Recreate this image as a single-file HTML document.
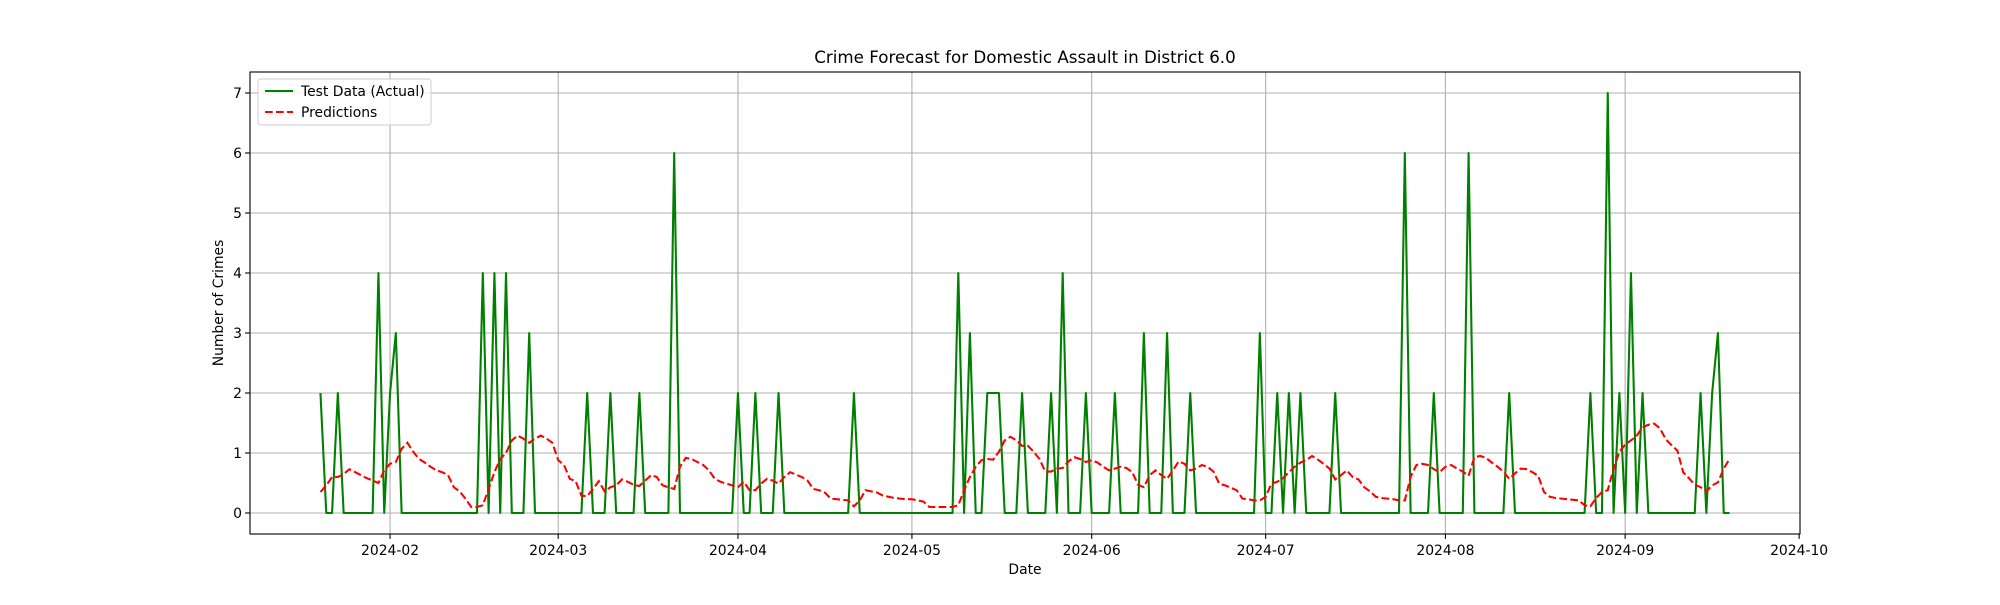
<!DOCTYPE html>
<html><head><meta charset="utf-8"><style>
html,body{margin:0;padding:0;background:#fff}
svg text{font-family:"DejaVu Sans","Liberation Sans",sans-serif;fill:#000}
</style></head><body>
<svg id="chart" width="2000" height="600" viewBox="0 0 2000 600" xmlns="http://www.w3.org/2000/svg">
<rect x="0" y="0" width="2000" height="600" fill="#fff"/>
<g id="grid"></g>
<g id="series"></g>
<g id="axes"></g>
<text x="1025" y="63" font-size="16.7" text-anchor="middle">Crime Forecast for Domestic Assault in District 6.0</text>
<text x="1025" y="574" font-size="13.9" text-anchor="middle">Date</text>
<text x="0" y="0" font-size="13.9" text-anchor="middle" transform="translate(223,303) rotate(-90)">Number of Crimes</text>
<g>
<rect x="258" y="79" width="173" height="46" rx="3" fill="#fff" fill-opacity="0.8" stroke="#ccc" stroke-width="1"/>
<line x1="265" y1="91" x2="293" y2="91" stroke="green" stroke-width="2.08"/>
<text x="301" y="96" font-size="13.9">Test Data (Actual)</text>
<line x1="265" y1="112" x2="293" y2="112" stroke="red" stroke-width="2.08" stroke-dasharray="7.7,3.3"/>
<text x="301" y="117" font-size="13.9">Predictions</text>
</g>
</svg>
<script>
const startDate = "2024-01-20";
const actual = [2,0,0,2,0,0,0,0,0,0,4,0,2,3,0,0,0,0,0,0,0,0,0,0,0,0,0,0,4,0,4,0,4,0,0,0,3,0,0,0,0,0,0,0,0,0,2,0,0,0,2,0,0,0,0,2,0,0,0,0,0,6,0,0,0,0,0,0,0,0,0,0,2,0,0,2,0,0,0,2,0,0,0,0,0,0,0,0,0,0,0,0,2,0,0,0,0,0,0,0,0,0,0,0,0,0,0,0,0,0,4,0,3,0,0,2,2,2,0,0,0,2,0,0,0,0,2,0,4,0,0,0,2,0,0,0,0,2,0,0,0,0,3,0,0,0,3,0,0,0,2,0,0,0,0,0,0,0,0,0,0,0,3,0,0,2,0,2,0,2,0,0,0,0,0,2,0,0,0,0,0,0,0,0,0,0,0,6,0,0,0,0,2,0,0,0,0,0,6,0,0,0,0,0,0,2,0,0,0,0,0,0,0,0,0,0,0,0,0,2,0,0,7,0,2,0,4,0,2,0,0,0,0,0,0,0,0,0,2,0,2,3,0,0];
const predicted = [0.35,0.46,0.6,0.6,0.65,0.73,0.68,0.63,0.58,0.54,0.5,0.71,0.82,0.85,1.07,1.17,1.02,0.9,0.84,0.77,0.71,0.68,0.63,0.43,0.36,0.24,0.1,0.1,0.13,0.4,0.68,0.9,1.0,1.21,1.29,1.24,1.17,1.24,1.29,1.24,1.17,0.88,0.8,0.57,0.53,0.29,0.28,0.4,0.53,0.36,0.43,0.46,0.56,0.52,0.47,0.45,0.54,0.63,0.6,0.46,0.43,0.4,0.77,0.92,0.9,0.85,0.8,0.71,0.57,0.52,0.49,0.46,0.43,0.52,0.38,0.38,0.49,0.57,0.54,0.49,0.6,0.68,0.64,0.6,0.54,0.4,0.38,0.34,0.24,0.23,0.22,0.21,0.11,0.21,0.38,0.36,0.34,0.29,0.27,0.25,0.24,0.23,0.23,0.21,0.19,0.1,0.1,0.1,0.1,0.1,0.13,0.38,0.6,0.77,0.88,0.9,0.89,1.02,1.21,1.27,1.21,1.12,1.12,1.02,0.9,0.69,0.69,0.74,0.75,0.86,0.93,0.9,0.85,0.88,0.84,0.77,0.71,0.74,0.77,0.75,0.68,0.47,0.43,0.63,0.71,0.63,0.57,0.71,0.86,0.82,0.71,0.74,0.8,0.77,0.69,0.49,0.46,0.42,0.38,0.24,0.23,0.21,0.21,0.27,0.49,0.52,0.58,0.68,0.77,0.84,0.88,0.95,0.89,0.82,0.74,0.56,0.63,0.71,0.6,0.56,0.43,0.36,0.27,0.25,0.24,0.23,0.21,0.21,0.6,0.8,0.82,0.8,0.73,0.68,0.77,0.8,0.74,0.69,0.62,0.93,0.95,0.92,0.84,0.77,0.69,0.57,0.66,0.74,0.73,0.68,0.62,0.35,0.27,0.25,0.24,0.23,0.22,0.21,0.13,0.11,0.25,0.35,0.38,0.74,1.02,1.14,1.21,1.29,1.43,1.47,1.49,1.41,1.23,1.13,1.04,0.68,0.58,0.47,0.43,0.36,0.46,0.51,0.74,0.9];
const xTickLabels = ["2024-02","2024-03","2024-04","2024-05","2024-06","2024-07","2024-08","2024-09","2024-10"];
const yTickLabels = [0,1,2,3,4,5,6,7];

const NS="http://www.w3.org/2000/svg";
const L=250,R=1800,T=72,B=534;
const DAY=86400000;
const t0=Date.UTC(2024,0,20);
const n=actual.length;
const span=n-1;
const xmin=-0.05*span, xmax=span*1.05;
const ymin=-0.35, ymax=7.35;
function xScale(d){return L+(d-xmin)/(xmax-xmin)*(R-L);}
function yScale(v){return B-(v-ymin)/(ymax-ymin)*(B-T);}
function dayOf(label){const p=label.split("-");return (Date.UTC(+p[0],+p[1]-1,1)-t0)/DAY;}
function mk(tag,attrs,parent){const e=document.createElementNS(NS,tag);for(const k in attrs)e.setAttribute(k,attrs[k]);parent.appendChild(e);return e;}
const grid=document.getElementById('grid'),axes=document.getElementById('axes'),series=document.getElementById('series');
xTickLabels.forEach(lab=>{
  const x=xScale(dayOf(lab));
  if(x<R-1){const g=mk('line',{x1:x,x2:x,y1:T,y2:B,stroke:'#b0b0b0','stroke-width':1.1},grid);
  
  }
  const tk=mk('line',{x1:x,x2:x,y1:B,y2:B+4.9,stroke:'#000','stroke-width':1.1},axes);
  
  
  const t=mk('text',{x:x,y:B+21,'font-size':13.9,'text-anchor':'middle'},axes);
  t.textContent=lab;
  
  
});
yTickLabels.forEach(v=>{
  const y=yScale(v);
  const g=mk('line',{x1:L,x2:R,y1:y,y2:y,stroke:'#b0b0b0','stroke-width':1.1},grid);
  
  
  const tk=mk('line',{x1:L-4.9,x2:L,y1:y,y2:y,stroke:'#000','stroke-width':1.1},axes);
  
  
  const t=mk('text',{x:L-8,y:y+5,'font-size':13.9,'text-anchor':'end'},axes);
  t.textContent=v;
  
  
});
const frame=mk('rect',{x:L,y:T,width:R-L,height:B-T,fill:'none',stroke:'#000','stroke-width':1.1},axes);


const pa=actual.map((v,i)=>xScale(i).toFixed(2)+','+yScale(v).toFixed(2)).join(' ');
const la=mk('polyline',{points:pa,fill:'none',stroke:'green','stroke-width':2.08,'stroke-linejoin':'round'},series);


const pp=predicted.map((v,i)=>xScale(i).toFixed(2)+','+yScale(v).toFixed(2)).join(' ');
const lp=mk('polyline',{points:pp,fill:'none',stroke:'red','stroke-width':2.08,'stroke-dasharray':'7.7,3.3'},series);


</script>
</body></html>
